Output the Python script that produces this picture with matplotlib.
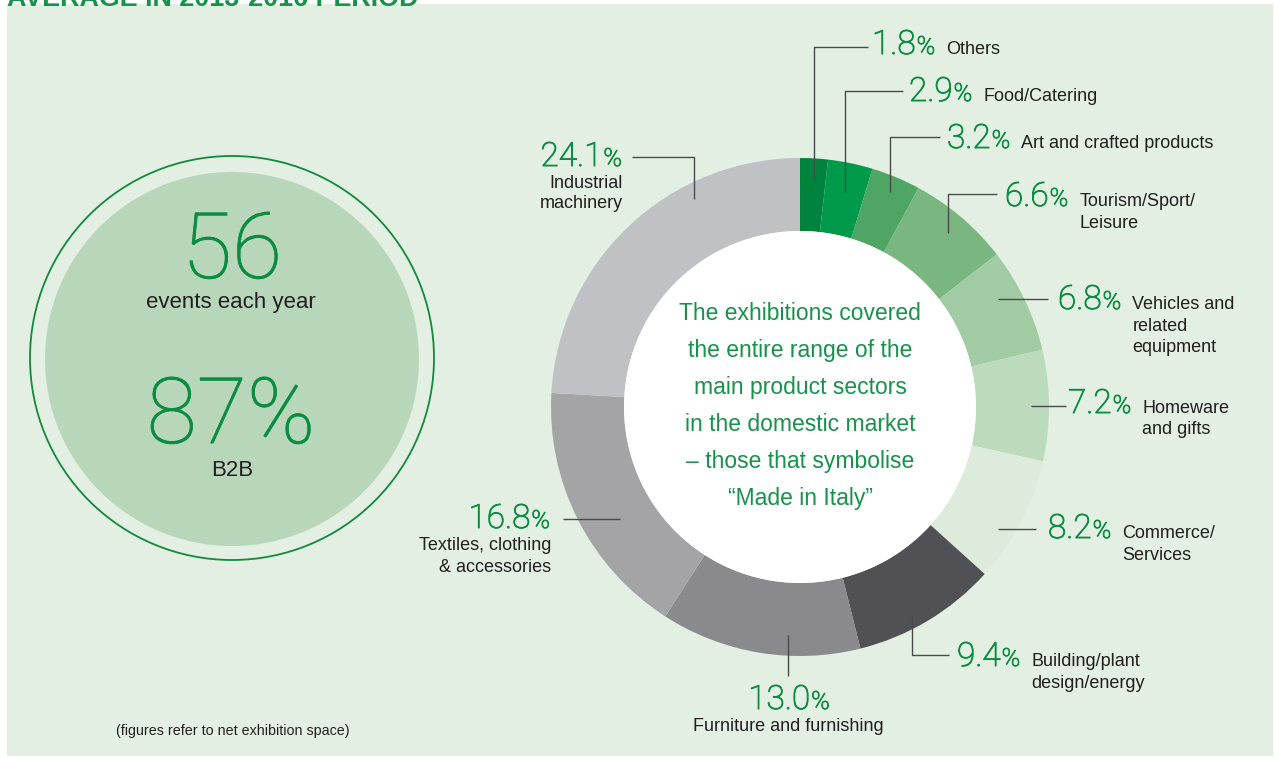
import matplotlib
matplotlib.use("Agg")
import matplotlib.pyplot as plt
import matplotlib.patheffects as pe
from matplotlib.patches import Rectangle, Circle

# ---------------- data ----------------
categories = ["Others", "Food/Catering", "Art and crafted products",
              "Tourism/Sport/\nLeisure", "Vehicles and\nrelated\nequipment",
              "Homeware\nand gifts", "Commerce/\nServices",
              "Building/plant\ndesign/energy", "Furniture and furnishing",
              "Textiles, clothing\n& accessories", "Industrial\nmachinery"]
shares = [1.8, 2.9, 3.2, 6.6, 6.8, 7.2, 8.2, 9.4, 13.0, 16.8, 24.1]
slice_colors = ["#00843d", "#009a4a", "#4fa563", "#7ab67f", "#a1cba2",
                "#bcdbbc", "#dcebdc", "#515055", "#8a898d", "#a4a4a7", "#c0c1c4"]

events_per_year = "56"
b2b_share = "87%"
center_lines = ["The exhibitions covered", "the entire range of the",
                "main product sectors", "in the domestic market",
                "\u2013 those that symbolise", "\u201cMade in Italy\u201d"]
title = "AVERAGE IN 2013-2016 PERIOD"
footnote = "(figures refer to net exhibition space)"

# ---------------- style ----------------
GREEN = "#16924a"
NUMGREEN = "#0a8d40"
DARK = "#231f20"
BG = "#e3efe3"
LINE = "#4a4a4a"
FONT = "Liberation Sans"
NUMFONT = ["Roboto", "Liberation Sans"]

W, H = 1274, 758
fig = plt.figure(figsize=(W / 100, H / 100), dpi=100)
fig.patch.set_facecolor("white")
ax = fig.add_axes([0, 0, 1, 1])

ax.add_patch(Rectangle((7, 4), 1266, 752, facecolor=BG, edgecolor="none", zorder=0))

# donut
cx, cy, R, ring = 800, 407, 249, 73
ax.pie(shares, colors=slice_colors, startangle=-90, counterclock=True,
       radius=R, center=(cx, cy),
       wedgeprops=dict(width=ring, linewidth=0, zorder=2))
ax.add_patch(Circle((cx, cy), R - ring, facecolor="white", edgecolor="none", zorder=3))
ax.set_xlim(0, W)
ax.set_ylim(H, 0)
ax.set_aspect("auto")
ax.axis("off")

for i, line in enumerate(center_lines):
    ax.text(cx, 313 + i * 37.2, line, ha="center", va="center", fontsize=16.5,
            color=GREEN, family=FONT, zorder=5)

# left circle
ax.add_patch(Circle((232, 358), 202, facecolor="none", edgecolor="#12893c", lw=1.3, zorder=2))
ax.add_patch(Circle((232, 359), 187, facecolor="#b8d7ba", edgecolor="none", zorder=2))
big_fx = [pe.withStroke(linewidth=0.6, foreground=NUMGREEN)]
ax.text(232, 278, events_per_year, ha="center", va="baseline", fontsize=66,
        color=NUMGREEN, family=NUMFONT, fontweight="light", zorder=4,
        path_effects=big_fx)
ax.text(231, 308, "events each year", ha="center", va="baseline", fontsize=16,
        color=DARK, family=FONT, zorder=4)
ax.text(231, 443, b2b_share, ha="center", va="baseline", fontsize=66,
        color=NUMGREEN, family=NUMFONT, fontweight="light", zorder=4,
        path_effects=big_fx)
ax.text(232, 476, "B2B", ha="center", va="baseline", fontsize=16,
        color=DARK, family=FONT, zorder=4)

ax.text(233, 735, footnote, ha="center", va="baseline", fontsize=10.3,
        color=DARK, family=FONT)
ax.text(7, 6, title, ha="left", va="baseline", fontsize=19.4, fontweight="bold",
        color=GREEN, family=FONT, clip_on=False)

# ---------------- labels ----------------
renderer = fig.canvas.get_renderer()


def width(t):
    return t.get_window_extent(renderer).width


NUM_FS, PCT_FS, LAB_FS = 24, 18, 13
num_fx = [pe.withStroke(linewidth=0.7, foreground=NUMGREEN)]

# layout: (mode, x, baseline, line spacing, leader polyline)
layout = [
    ("right", 872, 54, 21.5, [(814, 179), (814, 47), (868, 47)]),
    ("right", 909, 101, 21.5, [(845, 192), (845, 91), (903, 91)]),
    ("right", 947, 148, 21.5, [(890, 192), (890, 137), (940, 137)]),
    ("right", 1005, 206, 21.5, [(948, 233), (948, 194), (997, 194)]),
    ("right", 1058, 309, 21.7, [(998, 299), (1048, 299)]),
    ("right", 1068, 413, 21.5, [(1031, 406), (1066, 406)]),
    ("right", 1048, 538, 22, [(998, 529), (1036, 529)]),
    ("right", 957, 666, 21.5, [(912, 615), (912, 655), (949, 655)]),
    ("bottom", 789, 709, 22, [(788, 635), (788, 676)]),
    ("left", 550, 528, 21.5, [(620, 519), (563, 519)]),
    ("left", 622, 166, 20.5, [(694, 199), (694, 157), (632, 157)]),
]

for cat, val, (mode, x, yb, ls, leader) in zip(categories, shares, layout):
    xs = [p[0] for p in leader]
    ys = [p[1] for p in leader]
    ax.plot(xs, ys, color=LINE, lw=1.0, solid_capstyle="butt", zorder=4)
    num = f"{val:.1f}"
    lines = cat.split("\n")
    kw = dict(color=NUMGREEN, family=NUMFONT, fontweight="light", va="baseline",
              path_effects=num_fx)
    if mode == "right":
        t = ax.text(x, yb, num, fontsize=NUM_FS, ha="left", **kw)
        w1 = width(t)
        p = ax.text(x + w1 + 1, yb, "%", fontsize=PCT_FS, ha="left", **kw)
        w2 = width(p)
        lx = x + w1 + 1 + w2 + 11
        for j, ln in enumerate(lines):
            ax.text(lx, yb + j * ls, ln, fontsize=LAB_FS, color=DARK, family=FONT,
                    va="baseline", ha="left")
    elif mode == "left":
        p = ax.text(x, yb, "%", fontsize=PCT_FS, ha="right", **kw)
        w2 = width(p)
        ax.text(x - w2 - 1, yb, num, fontsize=NUM_FS, ha="right", **kw)
        for j, ln in enumerate(lines):
            ax.text(x + 1, yb + 22 + j * ls, ln, fontsize=LAB_FS, color=DARK,
                    family=FONT, va="baseline", ha="right")
    else:  # bottom, centered
        t = ax.text(0, yb, num, fontsize=NUM_FS, ha="left", **kw)
        p = ax.text(0, yb, "%", fontsize=PCT_FS, ha="left", **kw)
        w1, w2 = width(t), width(p)
        total = w1 + 1 + w2
        t.set_x(x - total / 2)
        p.set_x(x - total / 2 + w1 + 1)
        for j, ln in enumerate(lines):
            ax.text(x - 1, yb + ls + j * ls, ln, fontsize=LAB_FS, color=DARK,
                    family=FONT, va="baseline", ha="center")

fig.savefig("out.png", dpi=100, facecolor="white")
